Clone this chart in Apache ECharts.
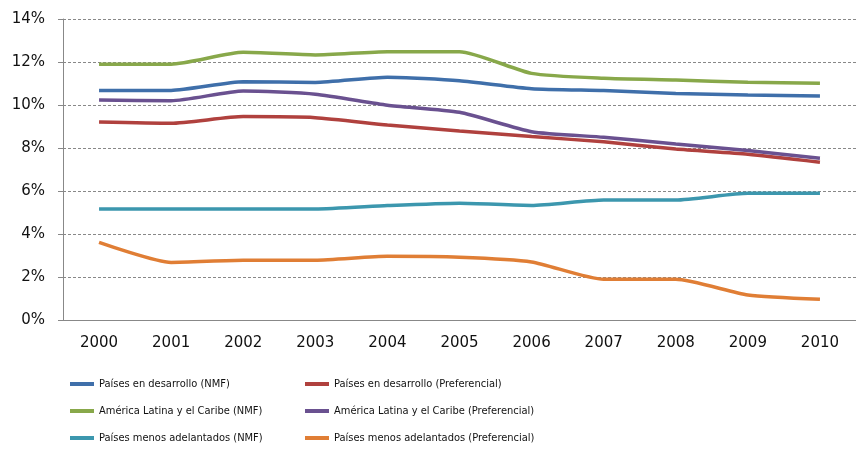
<!DOCTYPE html>
<html><head><meta charset="utf-8">
<script src="https://cdn.jsdelivr.net/npm/echarts@6/dist/echarts.min.js"></script>
<style>html,body{margin:0;padding:0;background:#fff}#c{width:856px;height:451px}</style>
</head><body><div id="c"></div>
<script>
const years = ['2000','2001','2002','2003','2004','2005','2006','2007','2008','2009','2010'];
const pedNMF  = [10.68,10.68,11.08,11.05,11.29,11.13,10.76,10.67,10.54,10.47,10.42];
const pedPref = [9.21,9.15,9.46,9.41,9.07,8.79,8.53,8.29,7.95,7.71,7.34];
const alcNMF  = [11.90,11.90,12.45,12.33,12.48,12.48,11.47,11.24,11.16,11.06,11.01];
const alcPref = [10.23,10.20,10.65,10.50,9.99,9.66,8.76,8.50,8.19,7.88,7.52];
const pmaNMF  = [5.16,5.16,5.16,5.16,5.32,5.43,5.33,5.58,5.58,5.89,5.89];
const pmaPref = [3.61,2.68,2.78,2.78,2.96,2.92,2.70,1.89,1.89,1.16,0.96];
const names = ['Países en desarrollo (NMF)','Países en desarrollo (Preferencial)','América Latina y el Caribe (NMF)','América Latina y el Caribe (Preferencial)','Países menos adelantados (NMF)','Países menos adelantados (Preferencial)'];
const colors = ['#3F6FAA','#B0413E','#88A84A','#6A5190','#3C97AE','#E07E35'];
const dataSets = [pedNMF, pedPref, alcNMF, alcPref, pmaNMF, pmaPref];

const chart = echarts.init(document.getElementById('c'));
const legends = names.map((n, i) => ({
  orient: 'horizontal',
  left: (i % 2 === 0) ? 70 : 305,
  top: 376 + Math.floor(i / 2) * 27,
  padding: 0,
  itemWidth: 24, itemHeight: 4, icon: 'rect',
  data: [n],
  textStyle: { fontFamily: '"DejaVu Sans Condensed", "Liberation Sans Narrow", "Liberation Sans"', fontSize: 11, color: '#111', lineHeight: 16 }
}));
chart.setOption({
  animation: false,
  color: colors,
  grid: { left: 63, right: -5, top: 19, bottom: 131, containLabel: false },
  legend: legends,
  xAxis: {
    type: 'category', data: years, boundaryGap: true,
    axisLine: { lineStyle: { color: '#888' } },
    axisTick: { length: 5, lineStyle: { color: '#888' } },
    axisLabel: { fontFamily: 'DejaVu Sans', fontSize: 15, color: '#111', margin: 16 }
  },
  yAxis: {
    type: 'value', min: 0, max: 14, interval: 2,
    axisLine: { show: true, lineStyle: { color: '#888' } },
    axisTick: { show: true, length: 5, lineStyle: { color: '#888' } },
    axisLabel: { fontFamily: 'DejaVu Sans', fontSize: 15, color: '#111', margin: 18, formatter: '{value}%' },
    splitLine: { lineStyle: { color: '#888', type: [3, 2], width: 1 } }
  },
  series: dataSets.map((d, i) => ({
    name: names[i], type: 'line', data: d, smooth: 0.2, symbol: 'none',
    lineStyle: { width: 3.5, color: colors[i] }, itemStyle: { color: colors[i] }
  }))
});
</script></body></html>
